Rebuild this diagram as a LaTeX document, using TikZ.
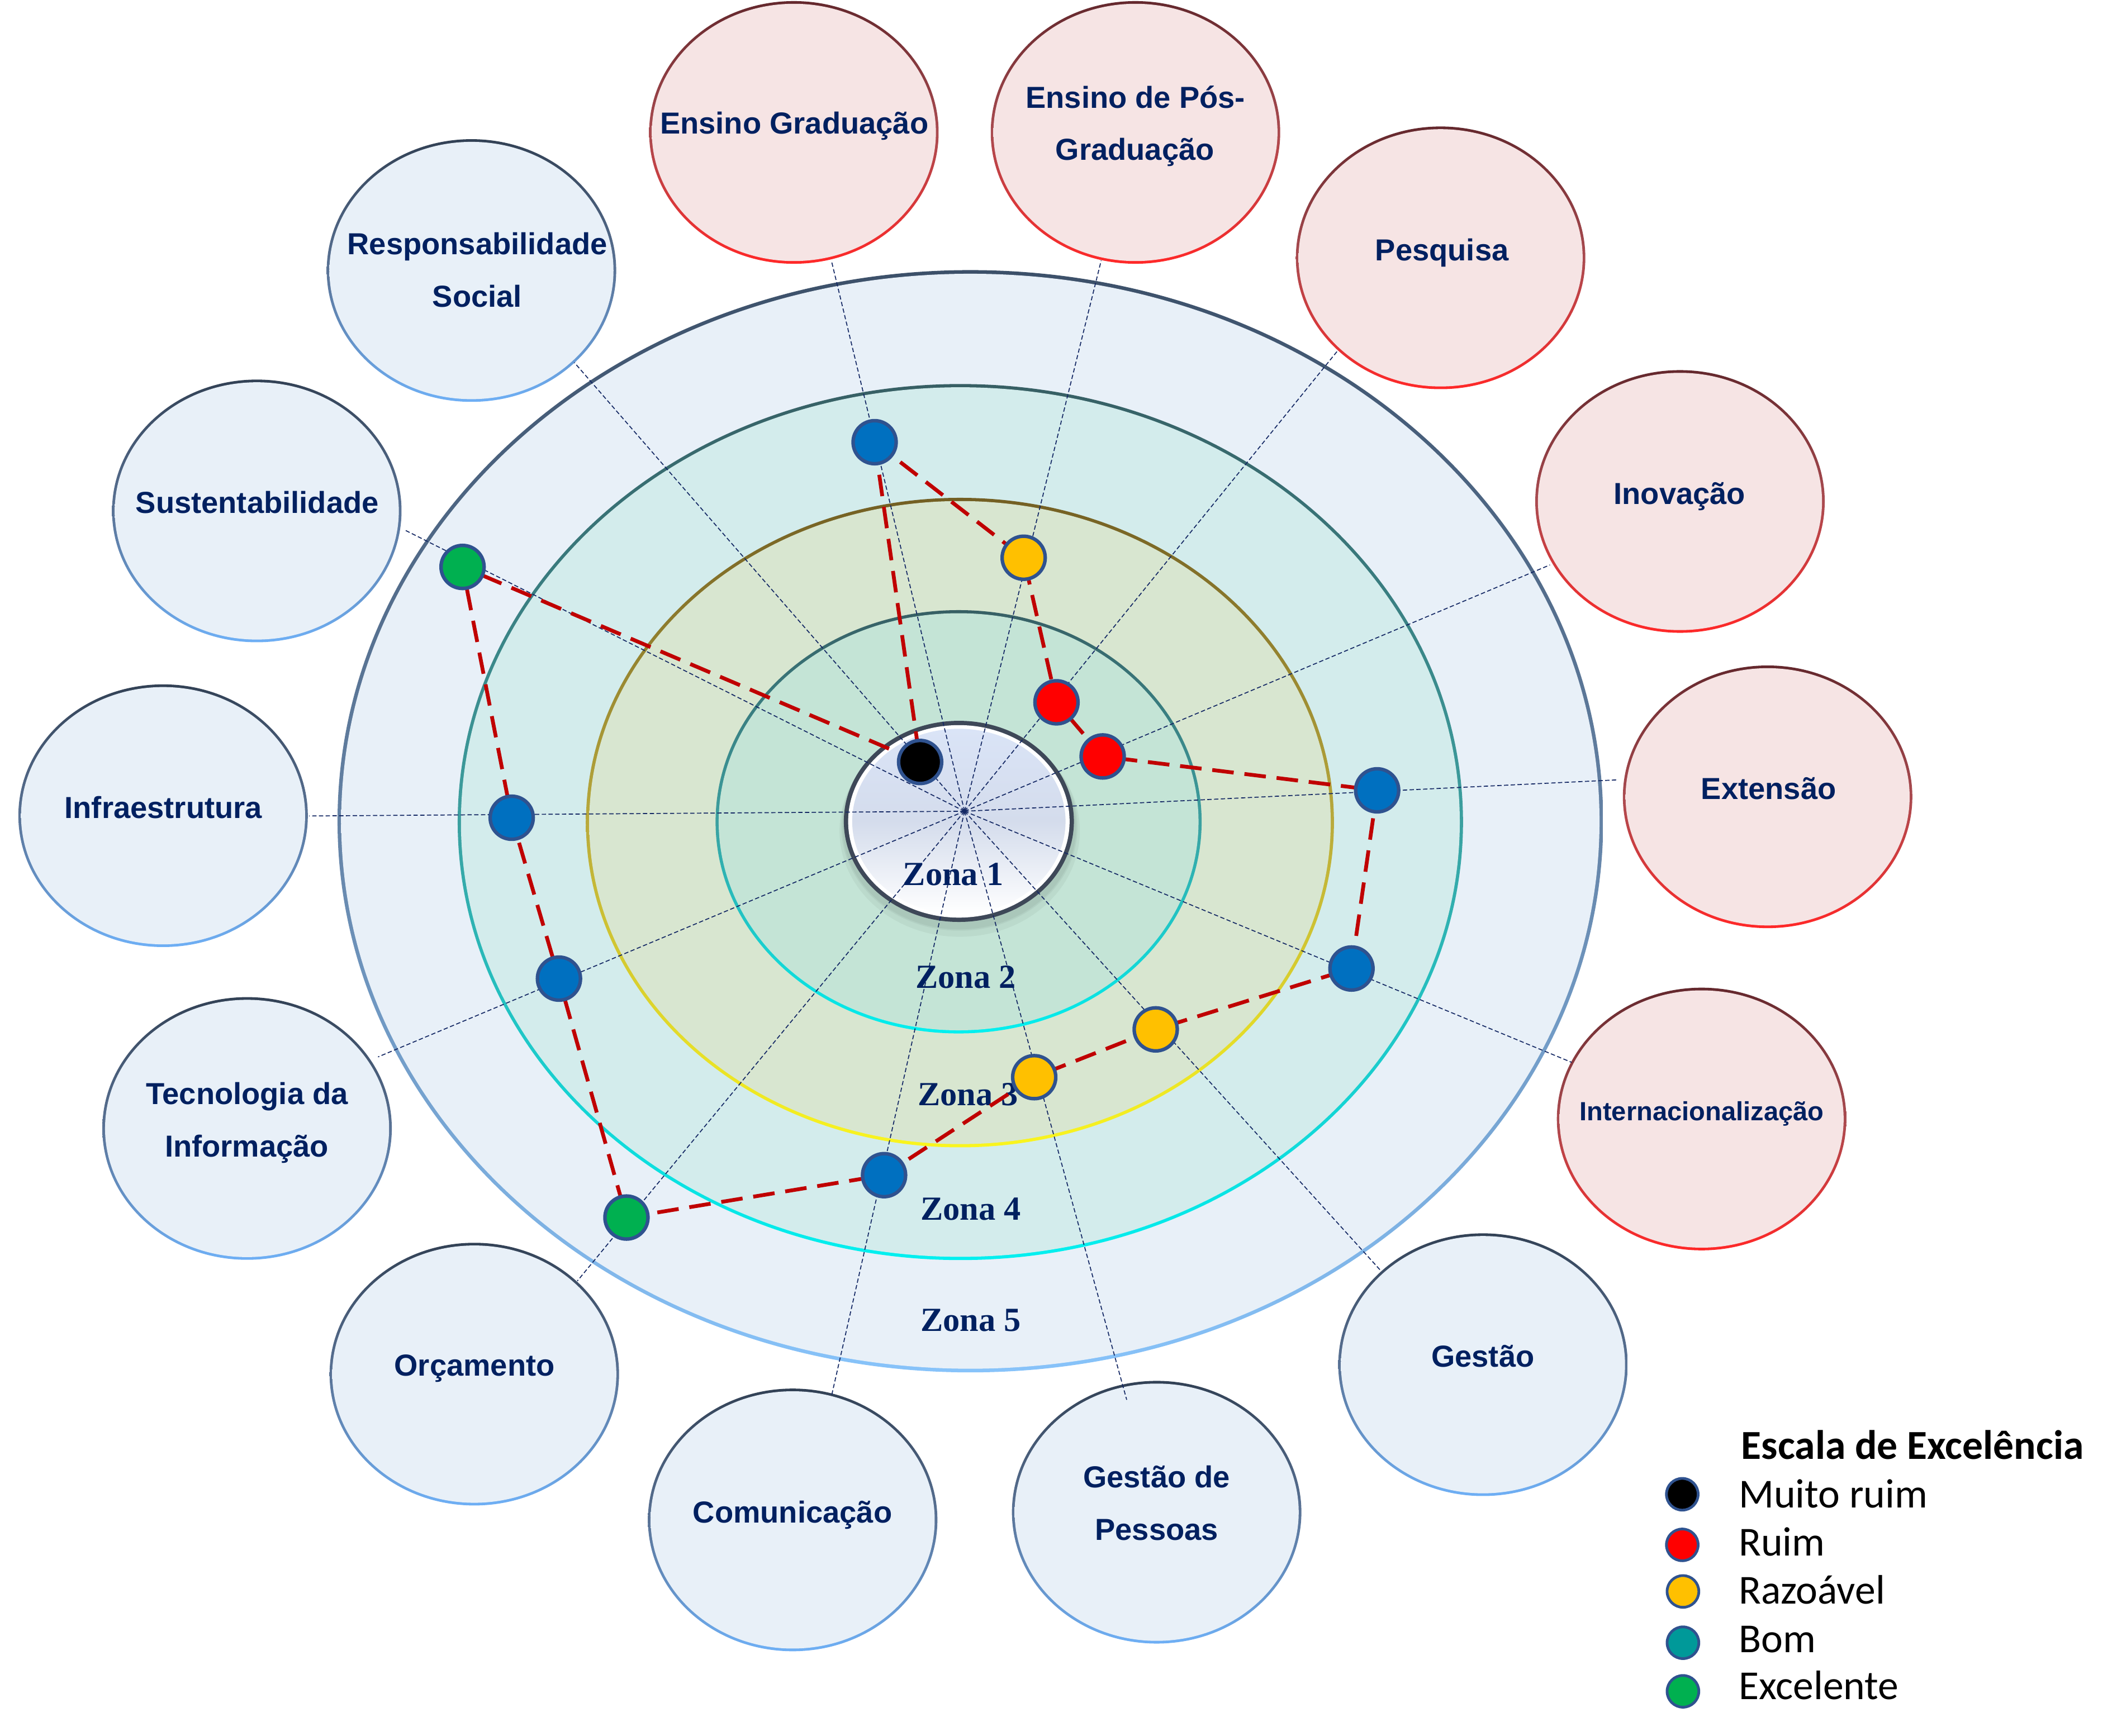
\documentclass[tikz,border=0pt]{standalone}
\usepackage{fontspec}
\setmainfont{Liberation Sans}
\newfontfamily\lblfont{Liberation Sans}
\newfontfamily\zonefont{Liberation Serif}
\newfontfamily\legfont{Carlito}

\definecolor{navy}{RGB}{0,32,96}
\definecolor{ptborder}{RGB}{47,82,143}
\definecolor{ptblue}{RGB}{0,112,192}
\definecolor{ptyellow}{RGB}{255,192,0}
\definecolor{ptred}{RGB}{255,0,0}
\definecolor{ptgreen}{RGB}{0,176,80}
\definecolor{ptteal}{RGB}{0,153,153}
\definecolor{dashred}{RGB}{192,0,0}
\definecolor{spokecol}{RGB}{20,40,100}
% bubbles
\definecolor{pinkfill}{RGB}{246,228,228}
\definecolor{pinkshade}{RGB}{212,175,178}
\definecolor{pinktop}{RGB}{100,40,45}
\definecolor{pinkmid}{RGB}{170,75,80}
\definecolor{pinkbot}{RGB}{255,40,40}
\definecolor{bluefill}{RGB}{232,240,248}
\definecolor{blueshade}{RGB}{172,190,212}
\definecolor{bluetop}{RGB}{50,65,85}
\definecolor{bluemid}{RGB}{90,115,150}
\definecolor{bluebot}{RGB}{110,175,245}
% zones
\definecolor{zfivefill}{RGB}{232,240,248}
\definecolor{zfiveshade}{RGB}{188,202,222}
\definecolor{zfivetop}{RGB}{60,80,105}
\definecolor{zfivemid}{RGB}{100,130,165}
\definecolor{zfivebot}{RGB}{135,195,250}
\definecolor{zfourfill}{RGB}{211,236,236}
\definecolor{zfourshade}{RGB}{160,205,208}
\definecolor{zfourtop}{RGB}{55,95,100}
\definecolor{zfourmid}{RGB}{60,160,160}
\definecolor{zfourbot}{RGB}{0,240,240}
\definecolor{zthreefill}{RGB}{216,230,208}
\definecolor{zthreeshade}{RGB}{198,198,158}
\definecolor{zthreetop}{RGB}{115,95,35}
\definecolor{zthreemid}{RGB}{185,170,60}
\definecolor{zthreebot}{RGB}{250,245,30}
\definecolor{ztwofill}{RGB}{196,228,214}
\definecolor{ztwoshade}{RGB}{155,200,190}
\definecolor{ztwotop}{RGB}{55,95,100}
\definecolor{ztwomid}{RGB}{60,160,160}
\definecolor{ztwobot}{RGB}{0,240,240}
% disc
\definecolor{discborder}{RGB}{62,72,88}
\definecolor{disctop}{RGB}{218,228,247}
\definecolor{discmid}{RGB}{212,220,236}

\pgfdeclareradialshading{glowpink}{\pgfpointorigin}{color(0bp)=(pinkfill); color(44bp)=(pinkfill); color(50bp)=(pinkshade)}
\pgfdeclareradialshading{glowblue}{\pgfpointorigin}{color(0bp)=(bluefill); color(44bp)=(bluefill); color(50bp)=(blueshade)}
\pgfdeclareradialshading{glowzfive}{\pgfpointorigin}{color(0bp)=(zfivefill); color(48.9bp)=(zfivefill); color(50bp)=(zfiveshade)}
\pgfdeclareradialshading{glowzfour}{\pgfpointorigin}{color(0bp)=(zfourfill); color(48.6bp)=(zfourfill); color(50bp)=(zfourshade)}
\pgfdeclareradialshading{glowzthree}{\pgfpointorigin}{color(0bp)=(zthreefill); color(48.2bp)=(zthreefill); color(50bp)=(zthreeshade)}
\pgfdeclareradialshading{glowztwo}{\pgfpointorigin}{color(0bp)=(ztwofill); color(47.2bp)=(ztwofill); color(50bp)=(ztwoshade)}

\newcommand{\bubbleshape}[2]{%
  \shade[top color=#2top, bottom color=#2bot, middle color=#2mid] (#1) ellipse [x radius=107.2pt, y radius=97.3pt];
  \shade[shading=glow#2] (#1) ellipse [x radius=105.2pt, y radius=95.3pt];}
\newcommand{\zonering}[6]{%
  \shade[top color=#6top, bottom color=#6bot, middle color=#6mid] (#1) ellipse [x radius=#2pt, y radius=#3pt];
  \shade[shading=glow#6] (#1) ellipse [x radius=#4pt, y radius=#5pt];}

\tikzset{
  lbl/.style={font=\lblfont\bfseries\fontsize{22.5pt}{27pt}\selectfont, text=navy, anchor=base, inner sep=0pt},
  lblsmall/.style={lbl, font=\lblfont\bfseries\fontsize{19.5pt}{24pt}\selectfont},
  zlbl/.style={font=\zonefont\bfseries\fontsize{25pt}{30pt}\selectfont, text=navy, anchor=base, inner sep=0pt},
  spokeline/.style={draw=spokecol, line width=0.7pt, dash pattern=on 3.2pt off 1.8pt},
  dashline/.style={draw=dashred, line width=2.8pt, dash pattern=on 16pt off 8pt},
  pt/.style={circle, draw=ptborder, line width=2.6pt, minimum size=31.9pt, inner sep=0pt},
  legpt/.style={circle, draw=ptborder, line width=2pt, minimum size=23.5pt, inner sep=0pt},
  legtitle/.style={font=\legfont\bfseries\fontsize{30.5pt}{36pt}\selectfont, text=black, anchor=base west, inner sep=0pt},
  legtxt/.style={font=\legfont\fontsize{30.5pt}{36pt}\selectfont, text=black, anchor=base west, inner sep=0pt},
  discshadow/.style={fill=black, opacity=0.045}
}

\begin{document}
\begin{tikzpicture}[x=1pt, y=-1pt]
\useasboundingbox (0,0) rectangle (1568,1286);
\fill[white] (0,0) rectangle (1568,1286);

% ---- label bubble centres
\coordinate (L1) at (588,98.1);
\coordinate (L2) at (841,98.1);
\coordinate (L3) at (1067,191);
\coordinate (L4) at (1244.3,371.5);
\coordinate (L5) at (1309.2,590.3);
\coordinate (L6) at (1260.3,829);
\coordinate (L7) at (1098.4,1011);
\coordinate (L8) at (856.7,1120.3);
\coordinate (L9) at (587.1,1126);
\coordinate (L10) at (351.3,1018);
\coordinate (L11) at (183,836);
\coordinate (L12) at (120.8,604.3);
\coordinate (L13) at (190.2,378.5);
\coordinate (L14) at (349.2,200.4);

\bubbleshape{L1}{pink}
\bubbleshape{L2}{pink}
\bubbleshape{L3}{pink}
\bubbleshape{L4}{pink}
\bubbleshape{L5}{pink}
\bubbleshape{L6}{pink}
\bubbleshape{L7}{blue}
\bubbleshape{L8}{blue}
\bubbleshape{L9}{blue}
\bubbleshape{L10}{blue}
\bubbleshape{L11}{blue}
\bubbleshape{L12}{blue}
\bubbleshape{L13}{blue}
\bubbleshape{L14}{blue}

% ---- zones
\coordinate (Z5) at (718.7,608.4);
\coordinate (Z4) at (711.3,609);
\coordinate (Z3) at (711,609.4);
\coordinate (Z2) at (710,608.8);
\coordinate (Z1) at (710.2,608.5);
\coordinate (Z1s) at (710.6,612.5);
\coordinate (Z1t) at (710.8,615.5);

\zonering{Z5}{468.7}{408.3}{466}{405.6}{zfive}
\zonering{Z4}{372.3}{324.5}{369.9}{322.1}{zfour}
\zonering{Z3}{277}{240.6}{274.6}{238.2}{zthree}
\zonering{Z2}{180}{156.8}{177.7}{154.5}{ztwo}

% centre disc (zone 1) with a soft shadow
\fill[discshadow] (Z1t) ellipse [x radius=89pt, y radius=78.5pt];
\fill[discshadow] (Z1s) ellipse [x radius=87.5pt, y radius=77pt];
\fill[discshadow] (Z1s) ellipse [x radius=86.5pt, y radius=76pt];
\fill[discborder] (Z1) ellipse [x radius=85.2pt, y radius=74.5pt];
\fill[white] (Z1) ellipse [x radius=82pt, y radius=71.3pt];
\shade[top color=disctop, bottom color=white, middle color=discmid] (Z1) ellipse [x radius=79pt, y radius=68.6pt];

% ---- spokes
\coordinate (C) at (714.4,601);
\coordinate (s1) at (616,194);
\coordinate (s2) at (815.6,193);
\coordinate (s3) at (991,259.5);
\coordinate (s4) at (1148,418.5);
\coordinate (s5) at (1198.7,577.7);
\coordinate (s6) at (1164,787);
\coordinate (s7) at (1022,940.6);
\coordinate (s8) at (834.5,1037);
\coordinate (s9) at (616,1033.6);
\coordinate (s10) at (427.6,949);
\coordinate (s11) at (280,783);
\coordinate (s12) at (229,604.5);
\coordinate (s13) at (300.5,393);
\coordinate (s14) at (425.4,268.6);
\foreach \k in {1,...,14} {\draw[spokeline] (C) -- (s\k);}

% ---- zone labels
\node[zlbl] (z1) at (706,656) {Zona 1};
\node[zlbl] (z2) at (715.4,732) {Zona 2};
\node[zlbl] (z3) at (717,819) {Zona 3};
\node[zlbl] (z4) at (719,904) {Zona 4};
\node[zlbl] (z5) at (719,986) {Zona 5};

% ---- data points
\coordinate (P1) at (647.8,327.6);
\coordinate (P2) at (758.2,413.2);
\coordinate (P3) at (782.5,520.3);
\coordinate (P4) at (816.7,560.4);
\coordinate (P5) at (1020,585.5);
\coordinate (P6) at (1001,717.5);
\coordinate (P7) at (856,762.6);
\coordinate (P8) at (766,798);
\coordinate (P9) at (654.8,870.6);
\coordinate (P10) at (464,902);
\coordinate (P11) at (414,725);
\coordinate (P12) at (379,605.8);
\coordinate (P13) at (342.6,420);
\coordinate (P14) at (681.5,564.5);

\draw[dashline] (P1) -- (P2) -- (P3) -- (P4) -- (P5) -- (P6) -- (P7) -- (P8) -- (P9) -- (P10) -- (P11) -- (P12) -- (P13) -- (P14) -- cycle;

\node[pt, fill=ptblue] (p1) at (P1) {};
\node[pt, fill=ptyellow] (p2) at (P2) {};
\node[pt, fill=ptred] (p3) at (P3) {};
\node[pt, fill=ptred] (p4) at (P4) {};
\node[pt, fill=ptblue] (p5) at (P5) {};
\node[pt, fill=ptblue] (p6) at (P6) {};
\node[pt, fill=ptyellow] (p7) at (P7) {};
\node[pt, fill=ptyellow] (p8) at (P8) {};
\node[pt, fill=ptblue] (p9) at (P9) {};
\node[pt, fill=ptgreen] (p10) at (P10) {};
\node[pt, fill=ptblue] (p11) at (P11) {};
\node[pt, fill=ptblue] (p12) at (P12) {};
\node[pt, fill=ptgreen] (p13) at (P13) {};
\node[pt, fill=black] (p14) at (P14) {};

% ---- bubble texts
\node[lbl] (t1) at (588.3,99.3) {Ensino Graduação};
\node[lbl] (t2a) at (841,80) {Ensino de Pós-};
\node[lbl] (t2b) at (840.6,118.6) {Graduação};
\node[lbl] (t3) at (1068,193) {Pesquisa};
\node[lbl] (t4) at (1244,373.4) {Inovação};
\node[lbl] (t5) at (1310,592.3) {Extensão};
\node[lblsmall] (t6) at (1260.4,830) {Internacionalização};
\node[lbl] (t7) at (1098.3,1012.5) {Gestão};
\node[lbl] (t8a) at (856.7,1102) {Gestão de};
\node[lbl] (t8b) at (856.7,1141) {Pessoas};
\node[lbl] (t9) at (587,1128) {Comunicação};
\node[lbl] (t10) at (351.5,1019.5) {Orçamento};
\node[lbl] (t11a) at (183,818) {Tecnologia da};
\node[lbl] (t11b) at (182.8,857) {Informação};
\node[lbl] (t12) at (121,606) {Infraestrutura};
\node[lbl] (t13) at (190.5,380) {Sustentabilidade};
\node[lbl] (t14a) at (353.6,188.7) {Responsabilidade};
\node[lbl] (t14b) at (353.5,227.4) {Social};

% ---- legend
\node[legtitle] (lgt) at (1289.6,1081) {Escala de Excelência};
\node[legpt, fill=black] (lc1) at (1246,1107) {};
\node[legpt, fill=ptred] (lc2) at (1246,1144.5) {};
\node[legpt, fill=ptyellow] (lc3) at (1246.5,1179) {};
\node[legpt, fill=ptteal] (lc4) at (1246.5,1217) {};
\node[legpt, fill=ptgreen] (lc5) at (1246.5,1253) {};
\node[legtxt] (lt1) at (1287.6,1117) {Muito ruim};
\node[legtxt] (lt2) at (1287.6,1152.5) {Ruim};
\node[legtxt] (lt3) at (1287.6,1188) {Razoável};
\node[legtxt] (lt4) at (1287.6,1224) {Bom};
\node[legtxt] (lt5) at (1287.6,1259) {Excelente};
\end{tikzpicture}
\end{document}
